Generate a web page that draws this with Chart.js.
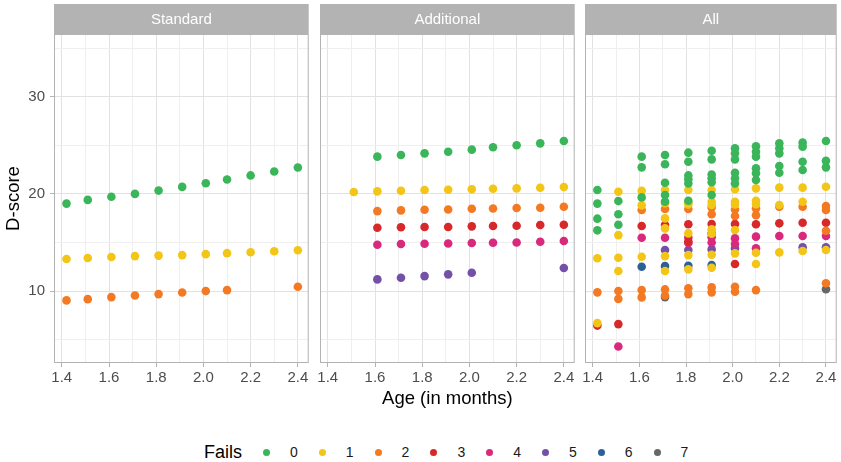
<!DOCTYPE html>
<html>
<head>
<meta charset="utf-8">
<script src="https://cdn.jsdelivr.net/npm/chart.js@4/dist/chart.umd.min.js"></script>
<style>
body { margin: 0; background: #fff; font-family: "Liberation Sans", Arial, sans-serif; }
#wrap { position: relative; width: 841px; height: 462px; overflow: hidden; }
.panel { position: absolute; top: 0; height: 412px; }
#legend { position: absolute; top: 440px; left: 204px; height: 24px; display: flex; align-items: center; color: #000; }
#legend .ttl { font-size: 18px; margin-right: 21px; }
#legend .dot { width: 7px; height: 7px; border-radius: 50%; margin-right: 20px; }
#legend .lab { font-size: 14px; color: #1a1a1a; margin-right: 21px; }
</style>
</head>
<body>
<div id="wrap">
  <div class="panel" style="left:0;width:313px"><canvas id="c1"></canvas></div>
  <div class="panel" style="left:313px;width:266px"><canvas id="c2"></canvas></div>
  <div class="panel" style="left:579px;width:262px"><canvas id="c3"></canvas></div>
  <div id="legend"></div>
</div>
<script>
// ages (months) at which the items are measured
const ages = [1.42, 1.51, 1.61, 1.71, 1.81, 1.91, 2.01, 2.10, 2.20, 2.30, 2.40];
const failLevels = ['0', '1', '2', '3', '4', '5', '6', '7'];
const failColors = ['#3bb55a', '#f2c517', '#f37a22', '#d7282a', '#d9297d', '#7550a8', '#2b6196', '#676767'];
const panelNames = ['Standard', 'Additional', 'All'];

const xTicks = [1.4, 1.5, 1.6, 1.7, 1.8, 1.9, 2.0, 2.1, 2.2, 2.3, 2.4];
const xLabels = [1.4, 1.6, 1.8, 2.0, 2.2, 2.4];
const yTicks = [5, 10, 15, 20, 25, 30, 35];
const yLabels = [10, 20, 30];

// Standard: one D-score per age and number of fails
const std0 = [19.0, 19.38, 19.7, 20.0, 20.34, 20.72, 21.1, 21.48, 21.9, 22.3, 22.72];
const std1 = [13.3, 13.4, 13.5, 13.6, 13.65, 13.7, 13.8, 13.9, 14.0, 14.1, 14.2];
const std2 = [9.04, 9.17, 9.38, 9.55, 9.69, 9.86, 10.0, 10.1, null, null, 10.45];

// Additional
const add0 = [null, null, 23.83, 24.0, 24.17, 24.34, 24.55, 24.8, 25.0, 25.2, 25.44];
const add1 = [null, 20.2, 20.26, 20.33, 20.4, 20.43, 20.47, 20.53, 20.57, 20.63, 20.7];
const add2 = [null, null, 18.23, 18.3, 18.37, 18.4, 18.47, 18.5, 18.54, 18.57, 18.68];
const add3 = [null, null, 16.52, 16.56, 16.6, 16.6, 16.66, 16.7, 16.72, 16.8, 16.83];
const add4 = [null, null, 14.77, 14.84, 14.87, 14.9, 14.94, 14.97, 15.0, 15.07, 15.15];
const add5 = [null, null, 11.2, 11.37, 11.54, 11.72, 11.88, null, null, null, 12.37];

// All: several D-scores per age (one list per age)
const all0 = [[20.4, 19.0, 17.45, 16.25], [19.26, 17.9, 16.83], [23.83, 22.73, 19.64],
  [24.0, 23.05, 21.15, 19.88, 19.2], [24.24, 23.31, 21.9, 21.5, 21.08, 19.3],
  [24.44, 23.55, 22.0, 21.6, 21.2, 19.88], [24.69, 24.17, 23.55, 22.18, 21.6, 21.08],
  [24.89, 24.34, 23.83, 22.63, 22.12, 21.43], [25.2, 24.69, 24.17, 22.87, 22.18],
  [25.27, 24.86, 23.31, 22.45], [25.44, 23.4, 22.73]];
const all1 = [[13.37, 6.7], [20.22, 15.76, 13.43, 12.06], [20.33, 18.82, 13.53],
  [20.4, 19.03, 17.48, 16.45, 13.6, 12.06], [20.4, 19.09, 18.9, 15.94, 13.7, 12.23],
  [20.4, 19.19, 18.85, 16.35, 15.9, 13.74, 12.4], [20.47, 19.19, 18.9, 16.28, 13.88],
  [20.57, 19.3, 18.95, 13.94, 12.78], [20.64, 18.85, 13.98], [20.64, 19.19, 14.12], [20.74, 14.22]];
const all2 = [[9.87], [10.0, 9.2], [18.34, 10.1, 9.35], [18.44, 10.17, 9.55], [18.44, 10.28, 9.69],
  [18.6, 17.9, 10.38, 9.87], [18.4, 17.72, 10.44, 9.93], [18.5, 17.8, 10.1], [18.68], [18.68],
  [18.75, 18.34, 16.2, 10.8]];
const all3 = [[6.45], [6.6], [16.69], [16.8], [16.87, 15.1], [16.9, 15.95], [16.9, 12.78],
  [16.87], [16.97], [17.03], [17.03]];
const all4 = [[], [4.3], [15.49], [15.49], [15.5, 14.95], [15.53, 15.0], [15.42, 14.84],
  [15.6, 14.4], [15.66], [15.66], [15.66]];
const all5 = [[], [], [], [14.22], [14.22], [14.29], [14.4], [], [], [14.5], [14.5]];
const all6 = [[], [], [12.5], [12.57], [12.6], [12.68], [], [], [], [], []];
const all7 = [[], [], [], [9.38], [], [], [], [], [], [], [10.2]];

const near = (list, v) => list.some(t => Math.abs(t - v) < 1e-6);

function seriesPoints(vals) {
  const pts = [];
  vals.forEach((v, i) => { if (v !== null) pts.push({x: ages[i], y: v}); });
  return pts;
}
function groupPoints(groups) {
  const pts = [];
  groups.forEach((g, i) => g.forEach(v => pts.push({x: ages[i], y: v})));
  return pts;
}

const facetPlugin = {
  id: 'facet',
  beforeDraw(chart, args, opts) {
    const {ctx, chartArea: a} = chart;
    ctx.save();
    ctx.fillStyle = '#b3b3b3';
    ctx.fillRect(a.left, 4, a.right - a.left, a.top - 4);
    ctx.fillStyle = '#ffffff';
    ctx.font = '15px "Liberation Sans", Arial, sans-serif';
    ctx.textAlign = 'center';
    ctx.textBaseline = 'middle';
    ctx.fillText(opts.title, (a.left + a.right) / 2, (4 + a.top) / 2 + 1);
    ctx.restore();
  },
  afterDatasetsDraw(chart) {
    const {ctx, chartArea: a} = chart;
    ctx.save();
    ctx.strokeStyle = '#b3b3b3';
    ctx.lineWidth = 1;
    ctx.strokeRect(a.left + 0.5, a.top + 0.5, a.right - a.left - 1, a.bottom - a.top - 1);
    ctx.restore();
  }
};

function makePanel(id, title, datasets, opt) {
  new Chart(document.getElementById(id), {
    type: 'scatter',
    data: {datasets: datasets},
    plugins: [facetPlugin],
    options: {
      responsive: true,
      maintainAspectRatio: false,
      animation: false,
      layout: {padding: {left: opt.padLeft, right: opt.padRight, top: 34, bottom: 0}},
      elements: {point: {radius: 4.3, borderWidth: 0, hoverRadius: 4.3}},
      plugins: {legend: {display: false}, tooltip: {enabled: false}, facet: {title: title}},
      scales: {
        x: {
          type: 'linear', min: 1.367, max: 2.446,
          afterBuildTicks: s => { s.ticks = xTicks.map(v => ({value: v})); },
          afterFit: s => { s.height = 49; },
          border: {display: false},
          grid: {
            color: c => near(xLabels, c.tick.value) ? '#e2e2e2' : '#efefef',
            tickColor: c => near(xLabels, c.tick.value) ? '#b3b3b3' : 'rgba(0,0,0,0)',
            tickLength: 4
          },
          ticks: {
            padding: 2, color: '#4d4d4d', maxRotation: 0, autoSkip: false,
            font: {size: 15, family: '"Liberation Sans", Arial, sans-serif'},
            callback: v => near(xLabels, v) ? v.toFixed(1) : ''
          },
          title: {
            display: opt.xTitle, text: 'Age (in months)', color: '#000',
            padding: {top: 0, bottom: 2},
            font: {size: 18.5, family: '"Liberation Sans", Arial, sans-serif'}
          }
        },
        y: {
          type: 'linear', min: 2.6, max: 36.45,
          afterBuildTicks: s => { s.ticks = yTicks.map(v => ({value: v})); },
          afterFit: s => { s.width = opt.yAxis ? 54 : 0; },
          border: {display: false},
          grid: {
            color: c => near(yLabels, c.tick.value) ? '#e2e2e2' : '#efefef',
            tickColor: c => opt.yAxis && near(yLabels, c.tick.value) ? '#b3b3b3' : 'rgba(0,0,0,0)',
            tickLength: opt.yAxis ? 4 : 0,
            drawTicks: opt.yAxis
          },
          ticks: {
            display: opt.yAxis, padding: 5, color: '#4d4d4d',
            font: {size: 15, family: '"Liberation Sans", Arial, sans-serif'},
            callback: v => near(yLabels, v) ? String(v) : ''
          },
          title: {
            display: opt.yAxis, text: 'D-score', color: '#000',
            padding: {top: 3, bottom: 0},
            font: {size: 18.5, family: '"Liberation Sans", Arial, sans-serif'}
          }
        }
      }
    }
  });
}

const stdSets = [std0, std1, std2].map((s, k) => ({label: failLevels[k], data: seriesPoints(s), backgroundColor: failColors[k]}));
const addSets = [add0, add1, add2, add3, add4, add5].map((s, k) => ({label: failLevels[k], data: seriesPoints(s), backgroundColor: failColors[k]}));
const allSets = [all0, all1, all2, all3, all4, all5, all6, all7].map((g, k) => ({label: failLevels[k], data: groupPoints(g), backgroundColor: failColors[k]}));

makePanel('c1', panelNames[0], stdSets, {padLeft: 0, padRight: 3, yAxis: true, xTitle: false});
makePanel('c2', panelNames[1], addSets, {padLeft: 7, padRight: 3, yAxis: false, xTitle: true});
makePanel('c3', panelNames[2], allSets, {padLeft: 6, padRight: 1, yAxis: false, xTitle: false});

// legend
const legend = document.getElementById('legend');
let html = '<span class="ttl">Fails</span>';
failLevels.forEach((f, k) => {
  html += '<span class="dot" style="background:' + failColors[k] + '"></span><span class="lab">' + f + '</span>';
});
legend.innerHTML = html;
</script>
</body>
</html>
